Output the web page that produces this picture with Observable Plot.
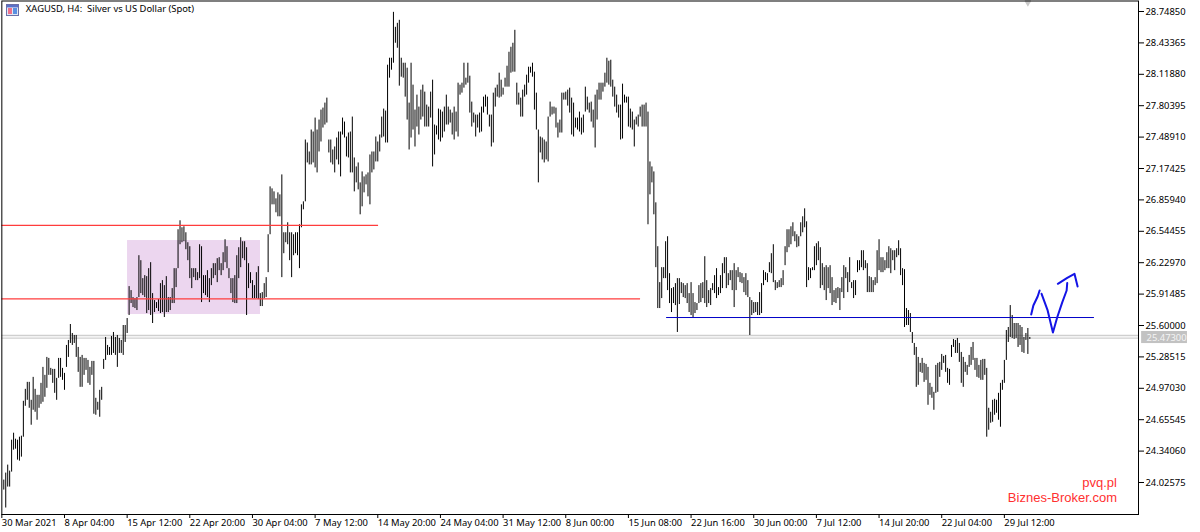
<!DOCTYPE html>
<html><head><meta charset="utf-8">
<script src="https://cdn.jsdelivr.net/npm/d3@7"></script>
<script src="https://cdn.jsdelivr.net/npm/@observablehq/plot@0.6"></script>
<style>html,body{margin:0;padding:0;background:#fff}svg{display:block}</style>
</head><body><div id="c"></div><script>
const highsA=[24.05,24.12,24.20,24.14,24.45,24.52,24.46,24.45,24.48,24.49,
24.84,24.96,25.03,25.03,24.85,25.08,24.96,24.90,24.90,25.02,
25.18,25.10,25.28,25.27,25.17,25.16,25.16,25.07,25.27,25.27,
25.17,25.12,25.40,25.45,25.61,25.52,25.50,25.50,25.38,25.28,
25.30,25.27,25.27,25.25,25.18,25.24,25.24,24.87,24.83,24.95,
24.98,25.26,25.48,25.40,25.38,25.49,25.53,25.48,25.50,25.47,
25.45,25.60,25.60,25.67];
const lowsA=[23.95,23.77,23.98,23.98,24.13,24.35,24.36,24.25,24.24,24.28,
24.48,24.79,24.85,24.77,24.60,24.75,24.73,24.65,24.77,24.81,
24.83,24.88,24.97,25.10,25.10,25.02,24.92,24.85,25.07,25.08,
25.05,24.95,25.18,25.28,25.42,25.40,25.42,25.28,25.13,24.98,
24.98,25.10,25.15,25.02,25.00,25.10,24.71,24.70,24.75,24.68,
24.85,25.16,25.25,25.30,25.30,25.30,25.32,25.30,25.18,25.32,
25.32,25.30,25.43,25.52];
const highsB=[25.99,25.95,25.88,25.87,25.88,26.30,26.25,26.07,26.10,26.09,
26.17,26.23,25.92,25.85,25.83,25.86,26.02,26.05,26.00,26.09,
25.88,25.88,25.97,26.17,26.17,26.56,26.65,26.58,26.59,26.53,
26.43,26.39,26.17,26.17,26.17,26.13,26.41,26.39,26.10,26.10,
26.15,26.07,26.17,26.22,26.22,26.27,26.28,26.22,26.33,26.46,
26.39,26.17,26.07,26.07,26.10,26.30,26.38,26.48,26.44,26.44,
26.38,26.22,26.13,26.05,26.00,26.13,26.19,25.92,25.93,26.02,
26.08];
const lowsB=[25.70,25.82,25.78,25.77,25.75,25.88,25.92,25.90,25.88,25.72,
25.75,25.70,25.62,25.73,25.77,25.74,25.72,25.73,25.68,25.73,
25.73,25.75,25.82,25.82,25.98,26.17,26.41,26.43,26.44,26.36,
26.25,26.07,25.97,26.08,26.05,26.05,26.07,25.83,25.92,25.90,
25.88,25.83,26.00,26.07,26.10,26.03,26.15,26.10,26.15,26.23,
26.17,26.07,25.92,25.83,25.82,25.82,26.07,26.18,26.27,26.25,
25.70,25.97,26.02,25.87,25.87,25.87,25.86,25.79,25.79,25.87,
25.88];
const highsC=[26.51,26.99,26.97,26.94,26.87,26.93,26.91,27.11,26.53,26.53,
26.63,26.53,26.53,26.51,26.53,26.53,26.61,26.81,26.84,27.46,
27.43,27.34,27.56,27.54,27.68,27.56,27.66,27.76,27.78,27.83,
27.88,27.46,27.46,27.36,27.39,27.48,27.54];
const lowsC=[26.13,26.51,26.81,26.81,26.73,26.69,26.69,26.08,26.32,26.43,
26.41,26.25,26.08,26.30,26.32,26.30,26.17,26.58,26.76,26.84,
27.23,27.21,27.21,27.23,27.18,27.13,27.34,27.44,27.58,27.61,
27.63,27.33,27.23,27.21,27.13,27.26,27.21];
const highsD=[27.54,27.68,27.64,27.49,27.53,27.54,27.69,27.28,27.19,27.23,
27.03,27.14,27.09,27.11,27.13,27.31,27.34,27.34,27.49,27.44,
27.51,27.69,27.77,27.75,28.21,28.28,28.28,28.74,28.59,28.63,
28.66,28.28,28.23,28.23,28.18,27.83,28.23,28.01,27.76,27.91,
27.79,27.96,28.01,27.94,27.81,27.79,27.94,28.06,27.61,27.60,
27.77,27.76,27.74,27.79,27.91,27.79,27.76,27.73,27.79,27.74,
28.03,28.01,28.03,28.23,28.08,28.23,28.10,27.84,27.73,27.71,
27.71,27.73,27.79,27.89,27.91,27.89,27.71,27.71,27.93,27.98,
28.01,28.13,28.06,27.98,28.08,28.20,28.34,28.39,28.43,28.56,
28.03,27.93,27.88,27.96,28.01,28.11,28.19,28.19,28.23,28.14,
27.93,27.56,27.49,27.48,27.46,27.44,27.69,27.84,27.79,27.79,
27.78,27.63,27.66,27.93,27.93,27.94,27.96,27.98,27.88,27.83,
27.68,27.68,27.74,27.68,27.71,27.99,27.89,27.83,27.84,27.76,
27.91,27.96,28.03];
const lowsD=[27.09,27.51,27.48,27.29,27.28,27.13,27.13,26.94,27.03,26.96,
26.71,26.79,26.93,27.01,26.89,26.81,27.13,27.16,27.24,27.24,
27.34,27.48,27.49,27.43,27.43,28.08,28.16,28.23,28.43,28.38,
28.00,28.09,28.08,27.89,27.66,27.36,27.48,27.56,27.39,27.59,
27.51,27.66,27.69,27.59,27.59,27.59,27.68,27.19,27.31,27.51,
27.46,27.44,27.48,27.54,27.61,27.61,27.63,27.51,27.46,27.54,
27.49,27.91,27.93,27.98,28.01,28.03,27.73,27.59,27.63,27.49,
27.58,27.53,27.54,27.73,27.79,27.71,27.59,27.39,27.43,27.79,
27.89,27.88,27.89,27.91,27.99,27.99,27.99,28.13,28.14,28.14,
27.81,27.81,27.69,27.69,27.89,27.91,28.03,28.13,28.09,27.76,
27.56,27.03,27.33,27.26,27.23,27.26,27.24,27.69,27.71,27.72,
27.58,27.48,27.53,27.53,27.86,27.86,27.80,27.73,27.51,27.49,
27.58,27.56,27.54,27.51,27.53,27.74,27.76,27.73,27.64,27.58,
27.38,27.66,27.86];
const highsE=[28.03,28.03,28.13,28.28,28.25,28.26,28.06,27.99,27.91,27.81,
27.81,28.02,27.91,27.89,27.89,27.77,27.74,27.66,27.69,27.71,
27.79,27.81,27.81,27.83,27.74,27.24,27.19,27.14,26.83,26.39,
26.03,26.18,26.18,26.44,26.49,26.12,25.97,25.98,26.02,26.07,
26.07,26.03,26.02,26.00,26.02,25.92,26.03,25.92,25.83,25.82,
26.00,26.02,26.03,26.29,26.05,25.95,25.97,26.02,26.10,26.17,
25.98,26.10,26.22,26.28,26.28,26.12,26.15,26.15,26.22,26.15,
26.18,26.13,26.12,26.08,26.12,26.05,25.88,25.85,25.83,25.83,
25.83,25.93,26.02,26.15,26.13,26.12,26.23,26.32,26.41,26.05,
26.03,26.05,26.07,26.15,26.39,26.56,26.56,26.59,26.63,26.54,
26.51,26.49,26.63,26.69,26.77,26.64,26.18,26.17,26.18,26.39,
26.42,26.44,26.38,26.22,26.18,26.20,26.18,26.20,26.08,25.95,
25.97,25.98,25.97,26.08,26.20,26.18,26.13,26.28,26.03,26.05,
26.05,26.25,26.25,26.35,26.35,26.25,26.22,26.09,26.08,26.05,
26.08,26.35,26.46,26.28];
const lowsE=[27.86,27.94,27.99,28.03,28.01,27.99,27.89,27.79,27.73,27.68,
27.46,27.47,27.83,27.83,27.59,27.58,27.56,27.39,27.61,27.59,
27.69,27.59,27.59,27.59,26.61,26.91,27.03,26.71,26.18,25.77,
25.77,25.87,26.07,26.07,25.95,25.82,25.73,25.82,25.80,25.53,
25.81,25.92,25.88,25.87,25.82,25.73,25.70,25.68,25.72,25.75,
25.82,25.83,25.87,25.82,25.78,25.82,25.80,25.95,25.92,25.87,
25.90,25.92,25.97,26.12,25.97,26.00,26.05,25.95,25.78,25.95,
26.08,26.03,26.02,25.93,25.90,25.88,25.50,25.70,25.72,25.73,
25.70,25.70,25.72,26.00,26.05,26.03,26.13,26.12,26.03,25.95,
25.97,25.98,25.98,26.00,26.20,26.33,26.38,26.41,26.49,26.44,
26.38,26.39,26.49,26.53,26.58,25.98,26.05,26.07,26.15,26.15,
26.20,26.25,25.97,26.00,25.95,25.85,25.97,25.92,25.80,25.83,
25.82,25.87,25.75,25.93,25.87,26.07,25.93,26.03,25.97,25.87,
25.90,26.13,26.15,26.18,26.15,26.17,25.93,25.93,25.93,25.93,
26.00,26.02,26.15,26.13];
const highsF=[26.28,26.25,26.33,26.39,26.37,26.35,26.35,26.37,26.45,26.37,
26.17,26.16,25.77,25.75,25.72,25.53,25.42,25.38,25.28,25.22,
25.27,25.22,25.21,25.18,25.02,24.98,24.93,25.20,25.22,25.23,
25.31,25.29,25.30,25.17,25.16,25.40,25.46,25.45,25.47,25.42,
25.33,25.28,25.23,25.20,25.30,25.38,25.43,25.27,25.27,25.20,
25.25,25.26,25.26,25.17,24.77,24.73,24.85,24.86,24.85,24.92,
25.02,25.05,25.25,25.55,25.58,25.80,25.70,25.62,25.62,25.62,
25.60,25.58,25.48,25.52,25.57,25.48];
const lowsF=[26.13,26.15,26.17,26.17,26.12,26.25,26.15,26.28,26.30,26.10,
26.00,25.58,25.60,25.60,25.53,25.42,25.30,24.98,25.00,25.13,
25.12,25.03,25.05,24.80,24.90,24.87,24.75,24.92,24.93,25.08,
25.15,25.22,25.13,25.02,25.00,25.28,25.38,25.32,25.32,25.23,
25.02,24.98,25.13,25.10,25.18,25.20,25.25,25.15,25.08,25.07,
25.05,25.05,25.10,24.48,24.55,24.62,24.63,24.70,24.72,24.65,
24.58,24.95,25.02,25.25,25.43,25.48,25.47,25.46,25.47,25.38,
25.40,25.33,25.32,25.45,25.31,25.46];
const highs=[...highsA,...highsB,...highsC,...highsD,...highsE,...highsF];
const lows=[...lowsA,...lowsB,...lowsC,...lowsD,...lowsE,...lowsF];
const bars=highs.map((h,k)=>({i:k+1,high:h,low:lows[k]}));

const dateLabels=["30 Mar 2021","8 Apr 04:00","15 Apr 12:00","22 Apr 20:00","30 Apr 04:00","7 May 12:00","14 May 20:00","24 May 04:00","31 May 12:00","8 Jun 00:00","15 Jun 08:00","22 Jun 16:00","30 Jun 00:00","7 Jul 12:00","14 Jul 20:00","22 Jul 04:00","29 Jul 12:00"];
const barsPerLabel=32;
const priceTicks=[28.7485,28.43365,28.1188,27.80395,27.4891,27.17425,26.8594,26.54455,26.2297,25.91485,25.6,25.28515,24.9703,24.65545,24.3406,24.02575];
const currentPrice=25.473;
const askPrice=25.50;
const redLevels=[{price:26.603,to:192.4},{price:25.866,to:326.2}];
const supportLevel={price:25.68,from:339.5,to:558};
const consolidationBox={x1:64.2,x2:132.1,y1:26.452,y2:25.71};
const strokeOne={i:[525.7,526.8,529.0,530.0],p:[25.71,25.801,25.891,25.951]};
const strokeTwo={i:[531.0,534.1,536.8,539.0,541.6,543.8,544.1],p:[25.918,25.751,25.53,25.683,25.834,25.951,26.025]};
const strokeThree={i:[539.3,544.1,547.8,549.4],p:[26.018,26.078,26.118,25.991]};
const toRows=s=>s.i.map((x,k)=>({i:x,p:s.p[k]}));
const FONT='"Noto Sans",sans-serif';
const SIZE=9.4;
const blue="#1414e6";
const chart=Plot.plot({
  width:1200,height:532,
  marginLeft:1.33,marginRight:62,marginTop:0.5,marginBottom:18,
  style:{background:"#fff",fontFamily:FONT,fontSize:SIZE+"px",color:"#000"},
  x:{type:"linear",domain:[0,580.5]},
  y:{type:"linear",domain:[23.7049,28.8538]},
  marks:[
    Plot.rect([consolidationBox],{x1:"x1",x2:"x2",y1:"y1",y2:"y2",fill:"#ecd6ef"}),
    Plot.ruleY([currentPrice,askPrice],{stroke:"#cfcfcf",strokeWidth:1.4}),
    Plot.ruleX(bars,{x:"i",y1:"low",y2:"high",stroke:"#000",strokeWidth:1}),
    Plot.ruleY(redLevels,{y:"price",x1:0,x2:"to",stroke:"#ff3c3c",strokeWidth:1.3}),
    Plot.ruleY([supportLevel],{y:"price",x1:"from",x2:"to",stroke:"#0000c8",strokeWidth:1}),
    Plot.line(toRows(strokeOne),{x:"i",y:"p",stroke:blue,strokeWidth:2}),
    Plot.line(toRows(strokeTwo),{x:"i",y:"p",stroke:blue,strokeWidth:2}),
    Plot.line(toRows(strokeThree),{x:"i",y:"p",stroke:blue,strokeWidth:2}),
    Plot.dot([524],{x:d=>d,y:()=>28.8538,symbol:"diamond",r:3.5,fill:"#c8c8c8"}),
    Plot.frame({stroke:"#000"}),
    Plot.axisY({anchor:"right",ticks:priceTicks,tickFormat:d=>d.toFixed(5),tickSize:5,tickPadding:2,label:null,fontSize:SIZE,stroke:"#000"}),
    Plot.axisX({anchor:"bottom",ticks:dateLabels.map((_,k)=>k*barsPerLabel),tickFormat:v=>dateLabels[v/barsPerLabel],tickSize:4,tickPadding:1,textAnchor:"start",label:null,fontSize:SIZE,stroke:"#000"}),
    Plot.rect([0],{x1:582.1,x2:605.5,y1:25.54,y2:25.419,fill:"#c2c2c2"}),
    Plot.text([currentPrice.toFixed(5)],{x:584.6,y:()=>currentPrice,text:d=>d,textAnchor:"start",fill:"#f4f4f4",fontSize:SIZE}),
    Plot.text(["XAGUSD, H4:  Silver vs US Dollar (Spot)"],{frameAnchor:"top-left",dx:24,dy:4,text:d=>d,textAnchor:"start",fontSize:SIZE,fill:"#000"}),
    Plot.text(["pvq.pl"],{x:569.5,y:()=>24.02,text:d=>d,textAnchor:"end",fill:"#ff3030",fontSize:13,fontFamily:"Liberation Sans"}),
    Plot.text(["Biznes-Broker.com"],{x:569.5,y:()=>23.87,text:d=>d,textAnchor:"end",fill:"#ff3030",fontSize:13,fontFamily:"Liberation Sans"})
  ]
});
document.getElementById("c").appendChild(chart);
// chart-window icon beside the title
const ns="http://www.w3.org/2000/svg";
const g=document.createElementNS(ns,"g");
g.innerHTML='<rect x="6.5" y="4.5" width="12" height="11" fill="#dfe6f4" stroke="#6a6fa8"/><rect x="7" y="5" width="11" height="2.4" fill="#5a70c8"/><rect x="8" y="8" width="4" height="6" fill="#f0708a"/><rect x="13" y="8" width="4" height="6" fill="#5a90e0"/>';
chart.appendChild(g);
</script></body></html>
